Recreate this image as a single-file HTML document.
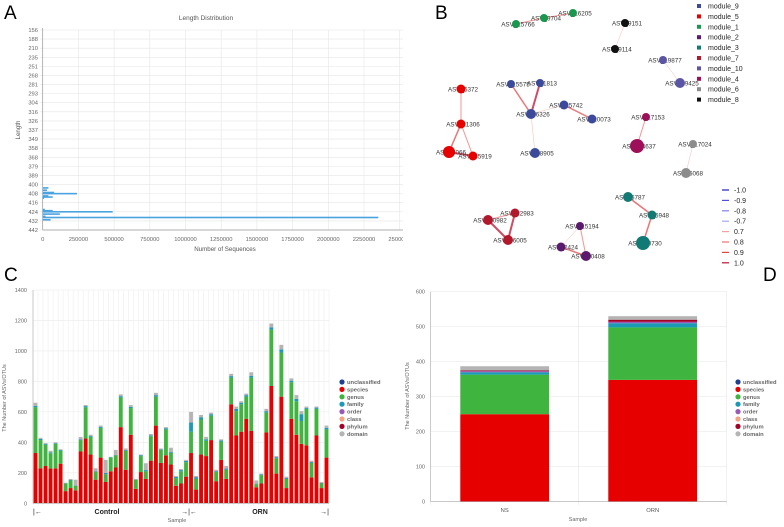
<!DOCTYPE html>
<html><head><meta charset="utf-8"><style>
html,body{margin:0;padding:0;background:#fff;width:784px;height:527px;overflow:hidden}
svg{position:absolute;left:0;top:0;font-family:"Liberation Sans",sans-serif}
</style></head><body>
<svg id="main" width="784" height="527" viewBox="0 0 784 527">
<g font-size="19" fill="#000">
<text x="4" y="19">A</text>
<text x="435" y="19">B</text>
<text x="4" y="281">C</text>
<text x="763" y="281">D</text>
</g>
<svg id="pa" x="0" y="0" width="403" height="260"></svg>
<g id="pb"></g>
<g id="pc"></g>
<g id="pd"></g>
</svg>
<script>
// ---------- Panel A data ----------
const aLabels=[156,188,210,235,251,268,281,293,304,316,326,337,349,358,368,379,389,400,408,416,424,432,442];
const aTicks=[0,250000,500000,750000,1000000,1250000,1500000,1750000,2000000,2250000,2500000];
const aLengths=[403,405,407,408,410,411,412,422,423,424,426,428,429,431];
const aCounts=[40000,30000,80000,240000,40000,70000,10000,15000,70000,490000,120000,20000,2350000,55000];
// ---------- Panel C data ----------
const cSpecies=[330,230,245,228,230,260,80,100,85,340,425,320,155,300,140,210,235,500,220,450,95,205,160,280,510,265,315,255,115,130,175,330,90,320,310,415,145,285,160,650,445,470,555,475,105,130,465,770,195,700,100,555,450,390,380,170,445,100,300];
const cGenus=[300,185,140,100,160,85,50,50,30,75,205,115,50,195,50,90,80,195,125,175,60,105,50,160,190,85,170,75,50,80,95,140,70,230,100,160,60,120,60,175,160,180,145,350,20,55,130,370,100,290,60,240,220,150,240,95,175,30,185];
const cFamily=[10,8,6,6,5,5,2,3,2,5,8,6,4,6,10,3,3,8,6,8,2,6,8,6,10,4,8,6,8,8,8,60,12,15,10,10,6,8,8,10,15,10,10,12,4,5,10,15,8,20,8,10,15,45,6,6,8,3,10];
const cDomain=[20,7,4,11,5,5,3,7,38,15,7,9,21,9,85,2,32,12,9,12,3,4,45,9,15,6,7,29,7,7,7,70,8,15,15,10,9,7,17,15,15,10,10,23,21,5,15,25,7,30,7,15,25,20,9,9,7,7,15];
const cYTicks=[0,200,400,600,800,1000,1200,1400];
// ---------- Panel D data ----------
const dSamples=["NS","ORN"];
const dSpecies=[250,348];
const dGenus=[113,150];
const dFamily=[7,12];
const dOrder=[3,4];
const dPhylum=[2,6];
const dDomain=[12,10];
const dYTicks=[0,100,200,300,400,500,600];
const levels=["unclassified","species","genus","family","order","class","phylum","domain"];
const levelColors=["#1f3f8f","#e60000","#3fb43f","#1a9ab5","#9b59b6","#f4a582","#a50026","#b4b4b4"];
// ---------- Panel B data ----------
const modules=["module_9","module_5","module_1","module_2","module_3","module_7","module_10","module_4","module_6","module_8"];
const moduleColors=["#3b4a9a","#e60000","#1a9850","#5b1a6e","#127a74","#b2182b","#5b55a5","#9e0f5a","#8c8c8c","#111111"];
const nodeNames=["ASV_15766","ASV_9704","ASV_16205","ASV_9151","ASV_9114","ASV_19877","ASV_19425","ASV_5372","ASV_21306","ASV_4066","ASV_35919","ASV_15575","ASV_1813","ASV_16326","ASV_15742","ASV_20073","ASV_18905","ASV_17153","ASV_14637","ASV_17024","ASV_6068","ASV_6787","ASV_5948","ASV_20730","ASV_20982","ASV_12983","ASV_16005","ASV_15194","ASV_2424","ASV_10408"];
const nodeModule=[2,2,2,9,9,6,6,1,1,1,1,0,0,0,0,0,0,7,7,8,8,4,4,4,5,5,5,3,3,3];
const nodeX=[116,144,173,225,215,263,280,61,61,49,73,111,140,131,164,192,135,246,237,293,286,228,252,243,88,115,108,180,161,186];
const nodeY=[24,18,13,23,49,60,83,89,124,152,156,84,83,114,105,119,153,117,146,144,173,197,215,243,220,213,240,226,247,256];
const nodeSize=[4,4,4,4,4,4,5,4.5,4.5,6,4.5,4,4,5,4.5,4.5,5,4,7,4,5,5,4.5,7,5,4.5,5,4,4.5,5];
const edgeFrom=[0,1,3,5,7,8,8,9,11,12,13,14,13,24,24,25,21,22,17,19,27,27,28];
const edgeTo=[1,2,4,6,8,9,10,10,13,13,14,15,16,25,26,26,22,23,18,20,28,29,29];
const edgeWeight=[0.8,0.8,0.7,0.7,0.8,0.9,0.8,1.0,0.9,1.0,0.7,0.9,0.7,0.8,1.0,1.0,0.9,0.9,0.8,0.7,0.7,0.8,0.9];
const corrLabels=["-1.0","-0.9","-0.8","-0.7","0.7","0.8","0.9","1.0"];
const corrColors=["#2020c0","#5050e0","#8080f0","#a8a8f0","#f4a0a0","#f07070","#e04848","#c01030"];

const NS="http://www.w3.org/2000/svg";
function mk(parent,tag,attrs,text){const e=document.createElementNS(NS,tag);for(const k in attrs)e.setAttribute(k,attrs[k]);if(text!==undefined)e.textContent=text;parent.appendChild(e);return e;}

// ===== Panel A =====
(function(){
const g=document.getElementById('pa');
const x0=42.7,xPer=35.7/250000,yTop=30,yStep=200/22;
const xs=v=>x0+v*xPer;
const yIdx=i=>yTop+i*yStep;
function ys(len){for(let i=0;i<aLabels.length-1;i++){if(len>=aLabels[i]&&len<=aLabels[i+1])return yIdx(i)+(len-aLabels[i])/(aLabels[i+1]-aLabels[i])*yStep;}return yIdx(aLabels.length-1);}
let t=mk(g,'text',{x:206,y:20,'font-size':6.5,'text-anchor':'middle',fill:'#555'},'Length Distribution');

aTicks.forEach(v=>{const gl=mk(g,'line',{x1:xs(v),x2:xs(v),y1:yTop,y2:yIdx(22),stroke:'#e6e6e6','stroke-width':0.6});

const tl=mk(g,'text',{x:xs(v),y:241,'font-size':5.8,'text-anchor':'middle',fill:'#666'},String(v));
});
aLabels.forEach((l,i)=>{const gl=mk(g,'line',{x1:x0-3,x2:410,y1:yIdx(i),y2:yIdx(i),stroke:'#e6e6e6','stroke-width':0.6});

const tl=mk(g,'text',{x:38,y:yIdx(i)+2,'font-size':5.8,'text-anchor':'end',fill:'#666'},String(l));
});
let ax=mk(g,'line',{x1:x0,x2:x0,y1:yTop-2,y2:yIdx(22),stroke:'#999','stroke-width':0.7});

ax=mk(g,'line',{x1:x0,x2:410,y1:yIdx(22),y2:yIdx(22),stroke:'#999','stroke-width':0.7});

aLengths.forEach((l,i)=>{const b=mk(g,'rect',{x:x0,y:ys(l)-0.8,width:xs(aCounts[i])-x0,height:1.6,fill:'#4aa3df'});
});
t=mk(g,'text',{x:225,y:251,'font-size':6.2,'text-anchor':'middle',fill:'#555'},'Number of Sequences');

t=mk(g,'text',{x:0,y:0,'font-size':6.2,'text-anchor':'middle',fill:'#555',transform:'translate(20,130) rotate(-90)'},'Length');

})();

// ===== Panel B =====
(function(){
const g=document.getElementById('pb');
const ox=400;
edgeFrom.forEach((f,i)=>{const to=edgeTo[i];const w=edgeWeight[i];
const c=corrColors[corrLabels.indexOf(w.toFixed(1))];
const e=mk(g,'line',{x1:ox+nodeX[f],y1:nodeY[f],x2:ox+nodeX[to],y2:nodeY[to],stroke:c,'stroke-width':(w-0.6)*5,'stroke-opacity':0.75});
});
nodeNames.forEach((n,i)=>{
const t=mk(g,'text',{x:ox+nodeX[i]+2,y:nodeY[i]+2.3,'font-size':6.3,'text-anchor':'middle',fill:'#333'},n);
});
nodeNames.forEach((n,i)=>{const c=mk(g,'circle',{cx:ox+nodeX[i],cy:nodeY[i],r:nodeSize[i],fill:moduleColors[nodeModule[i]]});
});
modules.forEach((m,i)=>{const y=6+i*10.4;
const r=mk(g,'rect',{x:697,y:y-2,width:4,height:4,fill:moduleColors[i]});

const t=mk(g,'text',{x:708,y:y+2.5,'font-size':7,fill:'#222'},m);
});
corrLabels.forEach((l,i)=>{const y=190+i*10.4;
const r=mk(g,'line',{x1:722,x2:729,y1:y,y2:y,stroke:corrColors[i],'stroke-width':1.2});

const t=mk(g,'text',{x:734,y:y+2.5,'font-size':7,fill:'#222'},l);
});
})();

function legend(g,x,y0,name){levels.forEach((l,i)=>{const y=y0+i*7.4;
const c=mk(g,'circle',{cx:x,cy:y,r:2.6,fill:levelColors[i]});

const t=mk(g,'text',{x:x+5,y:y+2,'font-size':5.8,'font-weight':'bold',fill:'#666'},l);
});}

// ===== Panel C =====
(function(){
const g=document.getElementById('pc');
const x0=33,x1=329,y0=503.3,yTop=290;
const ys=v=>y0-(v/1400)*(y0-yTop);
const n=cSpecies.length,bw=(x1-x0)/n;
cYTicks.forEach(v=>{const gl=mk(g,'line',{x1:x0,x2:x1,y1:ys(v),y2:ys(v),stroke:'#ebebeb','stroke-width':0.6});

const t=mk(g,'text',{x:27,y:ys(v)+2,'font-size':5.5,'text-anchor':'end',fill:'#666'},String(v));
});
for(let i=0;i<=n;i++){const gl=mk(g,'line',{x1:x0+i*bw,x2:x0+i*bw,y1:yTop,y2:y0+2,stroke:'#ebebeb','stroke-width':0.5});
}
const segs=[[cSpecies,1],[cGenus,2],[cFamily,3],[cDomain,7]];
for(let i=0;i<n;i++){let base=0;segs.forEach(([arr,ci])=>{const v=arr[i];
const r=mk(g,'rect',{x:x0+i*bw+0.6,y:ys(base+v),width:bw-1.2,height:ys(base)-ys(base+v),fill:levelColors[ci]});
base+=v;});}
let a=mk(g,'line',{x1:x0,x2:x0,y1:yTop,y2:y0,stroke:'#aaa','stroke-width':0.6});

a=mk(g,'line',{x1:x0,x2:x1,y1:y0,y2:y0,stroke:'#aaa','stroke-width':0.6});

let t=mk(g,'text',{x:33,y:514,'font-size':7,fill:'#222'},'|←');
t=mk(g,'text',{x:107,y:514,'font-size':7,'text-anchor':'middle','font-weight':'bold',fill:'#222'},'Control');
t=mk(g,'text',{x:189,y:514,'font-size':7,'text-anchor':'middle',fill:'#222'},'→|←');
t=mk(g,'text',{x:260,y:514,'font-size':7,'text-anchor':'middle','font-weight':'bold',fill:'#222'},'ORN');
t=mk(g,'text',{x:329,y:514,'font-size':7,'text-anchor':'end',fill:'#222'},'→|');
t=mk(g,'text',{x:177,y:522,'font-size':5.5,'text-anchor':'middle',fill:'#666'},'Sample');
t=mk(g,'text',{x:0,y:0,'font-size':5.5,'text-anchor':'middle',fill:'#666',transform:'translate(6,398) rotate(-90)'},'The Number of ASVs/OTUs');
legend(g,342,382,'c');
})();

// ===== Panel D =====
(function(){
const g=document.getElementById('pd');
const x0=430.7,x1=726.7,y0=501.7,yTop=291.7;
const ys=v=>y0-(v/600)*(y0-yTop);
const bandW=(x1-x0)/dSamples.length;
dYTicks.forEach(v=>{const gl=mk(g,'line',{x1:x0,x2:x1,y1:ys(v),y2:ys(v),stroke:'#ebebeb','stroke-width':0.6});

const t=mk(g,'text',{x:425,y:ys(v)+2,'font-size':5.5,'text-anchor':'end',fill:'#666'},String(v));
});
for(let i=0;i<=dSamples.length;i++){const gl=mk(g,'line',{x1:x0+i*bandW,x2:x0+i*bandW,y1:yTop,y2:y0+3,stroke:'#e6e6e6','stroke-width':0.6});
}
const segs=[[dSpecies,1],[dGenus,2],[dFamily,3],[dOrder,4],[dPhylum,6],[dDomain,7]];
dSamples.forEach((s,i)=>{let base=0;const bx=x0+i*bandW+bandW*0.2,bw=bandW*0.6;
segs.forEach(([arr,ci])=>{const v=arr[i];
const r=mk(g,'rect',{x:bx,y:ys(base+v),width:bw,height:ys(base)-ys(base+v),fill:levelColors[ci]});
base+=v;});
const t=mk(g,'text',{x:x0+(i+0.5)*bandW,y:512,'font-size':5.8,'text-anchor':'middle',fill:'#555'},s);
});
let a=mk(g,'line',{x1:x0,x2:x0,y1:yTop,y2:y0,stroke:'#aaa','stroke-width':0.6});

a=mk(g,'line',{x1:x0,x2:x1,y1:y0,y2:y0,stroke:'#aaa','stroke-width':0.6});

let t=mk(g,'text',{x:578,y:521,'font-size':5.5,'text-anchor':'middle',fill:'#666'},'Sample');
t=mk(g,'text',{x:0,y:0,'font-size':5.5,'text-anchor':'middle',fill:'#666',transform:'translate(409,396) rotate(-90)'},'The Number of ASVs/OTUs');
legend(g,738,382,'d');
})();
</script>
</body></html>
